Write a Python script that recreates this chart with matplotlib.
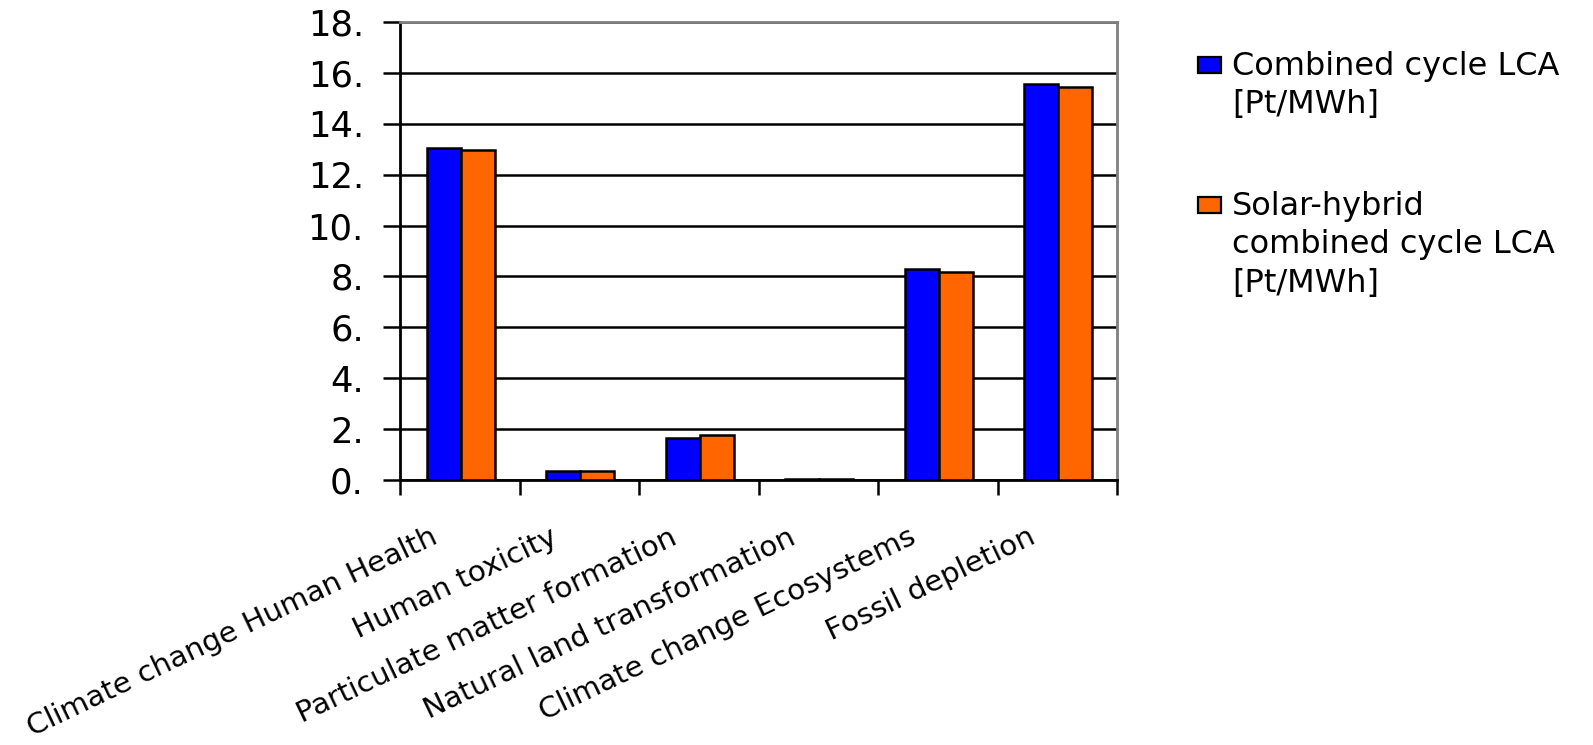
import matplotlib
matplotlib.use("Agg")
import matplotlib.pyplot as plt
import matplotlib.transforms as mtransforms
from matplotlib.patches import Rectangle
import numpy as np

categories = [
    "Climate change Human Health",
    "Human toxicity",
    "Particulate matter formation",
    "Natural land transformation",
    "Climate change Ecosystems",
    "Fossil depletion",
]
combined_cycle = [13.05, 0.37, 1.64, 0.05, 8.28, 15.55]
solar_hybrid = [12.95, 0.37, 1.75, 0.05, 8.18, 15.46]
series_labels = [["Combined cycle LCA", "[Pt/MWh]"],
                 ["Solar-hybrid", "combined cycle LCA", "[Pt/MWh]"]]
y_ticks = list(range(0, 19, 2))

plt.rcParams["font.family"] = ["DejaVu Sans"]

BLUE = "#0000ff"
ORANGE = "#ff6600"

W, H = 1593, 745
fig = plt.figure(figsize=(W / 100, H / 100), dpi=100)
ax = fig.add_axes([400 / W, 1 - 480 / H, 717 / W, 458 / H])

x = np.arange(len(categories))
w = 0.285
ax.bar(x - 0.135, combined_cycle, width=w, color=BLUE, edgecolor="black",
       linewidth=1.8, zorder=3)
ax.bar(x + 0.15, solar_hybrid, width=w, color=ORANGE, edgecolor="black",
       linewidth=1.8, zorder=3)

ax.set_xlim(-0.5, len(categories) - 0.5)
ax.set_ylim(0, 18)

# horizontal grid
ax.set_yticks(y_ticks)
ax.set_yticklabels([f"{v}." for v in y_ticks], fontsize=25.5)
ax.yaxis.grid(True, color="black", linewidth=1.8, zorder=0)
ax.set_axisbelow(True)
ax.tick_params(axis="y", direction="out", length=12, width=1.8, pad=14)

# category boundaries as x ticks, labels at centres
ax.set_xticks(np.arange(len(categories) + 1) - 0.5)
ax.set_xticklabels([])
ax.tick_params(axis="x", direction="out", length=11, width=1.8)
ax.set_xticks(x, minor=True)
ax.set_xticklabels(categories, minor=True, rotation=25.5, ha="right",
                   va="top", rotation_mode="anchor", fontsize=21.2)
ax.tick_params(axis="x", which="minor", length=0, pad=31)
shift = mtransforms.ScaledTranslation(-0.30, 0, fig.dpi_scale_trans)
for lbl in ax.get_xticklabels(minor=True):
    lbl.set_transform(lbl.get_transform() + shift)

for side in ("left", "bottom"):
    ax.spines[side].set_color("black")
    ax.spines[side].set_linewidth(2)
for side in ("top", "right"):
    ax.spines[side].set_color("#808080")
    ax.spines[side].set_linewidth(2)

# legend: swatch beside the first line of each multi-line label
line_step = 38.5
legend_items = [(BLUE, series_labels[0], 75), (ORANGE, series_labels[1], 215)]
for color, lines, baseline in legend_items:
    fig.patches.append(Rectangle((1198 / W, 1 - (baseline - 2) / H),
                                 23 / W, 16 / H,
                                 transform=fig.transFigure, facecolor=color,
                                 edgecolor="black", linewidth=1.6))
    for i, line in enumerate(lines):
        fig.text(1232 / W, 1 - (baseline + i * line_step) / H, line,
                 fontsize=23, va="baseline", ha="left")

fig.savefig("out.png", dpi=100)
